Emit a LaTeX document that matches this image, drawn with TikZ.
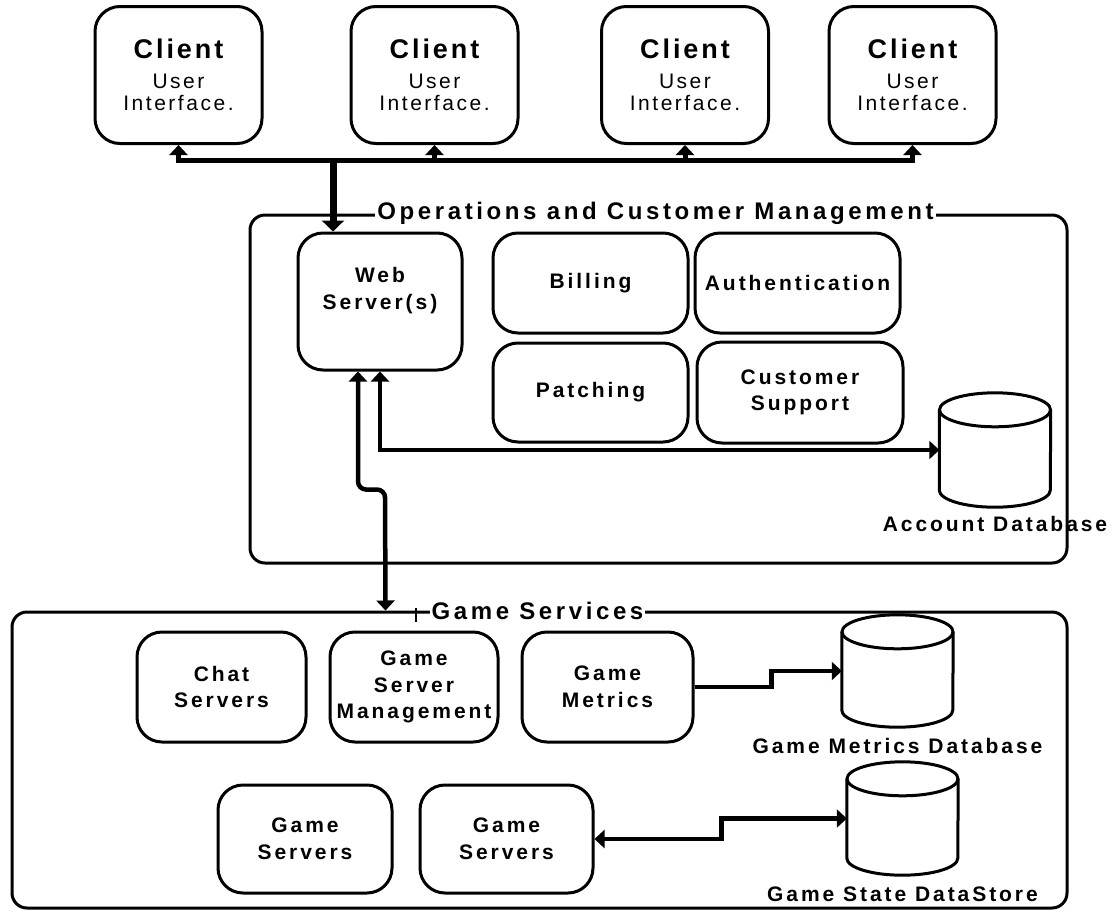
\documentclass[tikz,border=0pt]{standalone}
\usepackage{fontspec}
\setmainfont{Liberation Sans}
\usepackage{tikz}
\usetikzlibrary{arrows.meta,positioning}
\newfontfamily\boxfont[LetterSpace=14]{Liberation Sans}
\newfontfamily\titlefont[LetterSpace=15]{Liberation Sans}
\newfontfamily\clientfont[LetterSpace=11]{Liberation Sans}
\newfontfamily\uifont[LetterSpace=12]{Liberation Sans}
\tikzstyle{group}=[draw,line width=3pt,rounded corners=15pt]
\tikzstyle{grouptitle}=[fill=white,inner sep=2pt,font=\titlefont\bfseries\fontsize{24}{28}\selectfont]
\tikzstyle{client}=[draw,line width=3pt,rounded corners=25pt,minimum width=167pt,minimum height=137pt,align=center,font=\uifont\fontsize{21}{22.5}\selectfont]
\tikzstyle{service}=[draw,line width=3pt,rounded corners=25pt,align=center,inner sep=0pt,font=\boxfont\bfseries\fontsize{21}{26.5}\selectfont]
\tikzstyle{db}=[minimum width=111pt,minimum height=114pt,inner sep=0pt]
\tikzstyle{dblabel}=[inner sep=0pt,font=\boxfont\bfseries\fontsize{21}{26}\selectfont]
\tikzstyle{link}=[line width=4.5pt]
% database drum round a named node
\newcommand{\drum}[1]{%
  \draw[line width=3pt,line join=round] ([yshift=-17pt]#1.north west) -- ([yshift=17pt]#1.south west)
    arc[start angle=180,end angle=360,x radius=55.5pt,y radius=17pt] -- ([yshift=-17pt]#1.north east);
  \draw[line width=3pt] ([yshift=-17pt]#1.north) ellipse [x radius=55.5pt,y radius=17pt];}

\begin{document}
\begin{tikzpicture}[x=1pt,y=-1pt,>={Triangle[width=18pt,length=10pt]}]
  \useasboundingbox (0,0) rectangle (1114,911);
  % groups
  \node[group,minimum width=817pt,minimum height=348pt] (ops) at (658.5,389) {};
  \node[group,minimum width=1055pt,minimum height=296pt] (gs) at (539.5,760) {};
  \node[grouptitle] (opstitle) at ([xshift=-3pt]ops.north) {Operations and Customer Management};
  \node[grouptitle] (gstitle) at ([xshift=-2pt]gs.north) {Game Services};
  \draw[line width=1.5pt] (416,608) -- (416,622);

  % clients
  \node[client] (c1) at (178.5,75) {{\clientfont\bfseries\fontsize{27}{30}\selectfont Client}\\[7pt]User\\Interface.};
  \node[client] (c2) at (434.5,75) {{\clientfont\bfseries\fontsize{27}{30}\selectfont Client}\\[7pt]User\\Interface.};
  \node[client] (c3) at (685,75) {{\clientfont\bfseries\fontsize{27}{30}\selectfont Client}\\[7pt]User\\Interface.};
  \node[client] (c4) at (912.5,75) {{\clientfont\bfseries\fontsize{27}{30}\selectfont Client}\\[7pt]User\\Interface.};
  \coordinate (bus) at (0,160);

  % operations
  \node[service,minimum width=164pt,minimum height=137pt] (web) at (380,301.5) {Web\\Server(s)\\\mbox{}};
  \node[service,minimum width=195pt,minimum height=100pt] (billing) at (590.5,283) {Billing};
  \node[service,minimum width=205pt,minimum height=100pt] (auth) at (797.5,283) {Authentication};
  \node[service,minimum width=195pt,minimum height=99pt] (patching) at (590.5,392.5) {Patching};
  \node[service,minimum width=206pt,minimum height=101pt] (support) at (800,392.5) {Customer\\Support};
  \node[db] (adb) at (995,450) {};
  \drum{adb}
  \node[dblabel,below=9pt of adb] (adblabel) {Account Database};

  % game services
  \node[service,minimum width=169pt,minimum height=110pt] (chat) at (221.5,687) {Chat\\Servers};
  \node[service,minimum width=168pt,minimum height=110pt] (gsm) at (414,687) {Game\\Server\\Management};
  \node[service,minimum width=171pt,minimum height=110pt] (gm) at (607.5,687) {Game\\Metrics};
  \node[service,minimum width=174pt,minimum height=108pt] (gs1) at (305,839) {Game\\Servers};
  \node[service,minimum width=173pt,minimum height=108pt] (gs2) at (506.5,839) {Game\\Servers};
  \node[db,minimum height=112pt] (gmdb) at (897.5,671) {};
  \drum{gmdb}
  \node[dblabel,below=11pt of gmdb] (gmdblabel) {Game Metrics Database};
  \node[db,minimum height=113pt] (gsd) at (902.5,818.5) {};
  \drum{gsd}
  \node[dblabel,below=11pt of gsd] (gsdlabel) {Game State DataStore};

  % connectors
  \draw[line width=5pt,<->] (c1.south) -- (c1.south |- bus) -- (c4.south |- bus) -- (c4.south);
  \draw[line width=5pt,->] (c2.south |- bus) -- (c2.south);
  \draw[line width=5pt,->] (c3.south |- bus) -- (c3.south);
  \draw[line width=7pt,->,>={Triangle[width=22pt,length=11pt]}] ([xshift=-47pt]web.north |- bus) -- ([xshift=-47pt]web.north);
  \draw[link,<->] (web.south) |- (adb.west);
  \draw[link,<->,rounded corners=8pt] ([xshift=-22pt]web.south) -- ++(0,118) -- ++(27,0) -- ([xshift=-154pt]gs.north);
  \draw[link,->] (gm.east) -- ++(77,0) |- (gmdb.west);
  \draw[link,<->] (gs2.east) -- ++(127,0) |- (gsd.west);
\end{tikzpicture}
\end{document}
